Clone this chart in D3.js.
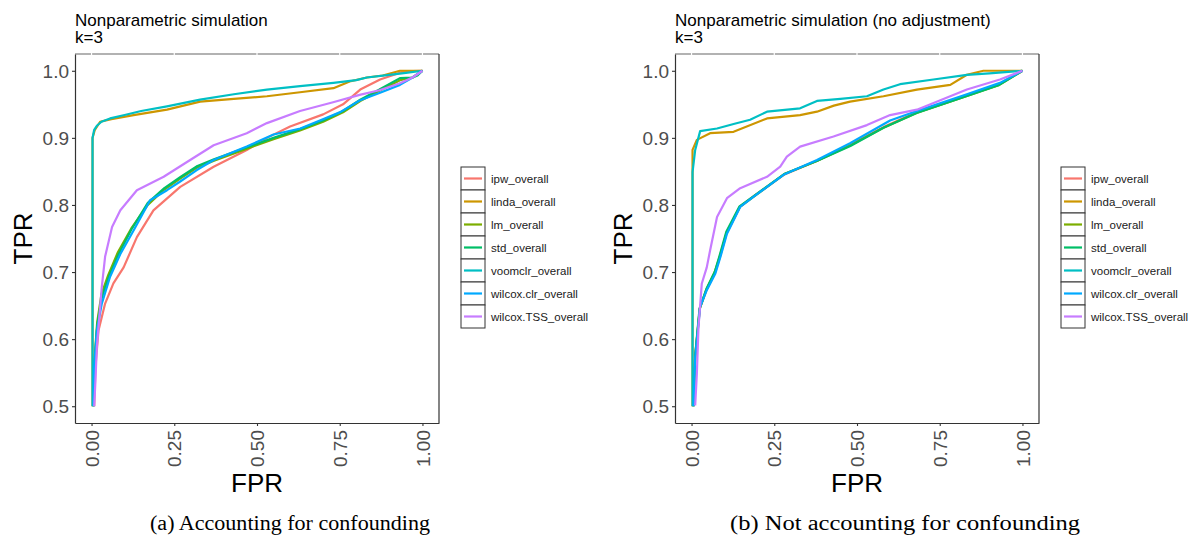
<!DOCTYPE html>
<html>
<head>
<meta charset="utf-8">
<script src="https://cdn.jsdelivr.net/npm/d3@7"></script>
<style>
  body { margin: 0; background: #fff; }
  svg { display: block; }
</style>
</head>
<body>
<div id="chart"></div>
<script>
// legend order / colours (ggplot hue palette)
const methods = ['ipw_overall', 'linda_overall', 'lm_overall', 'std_overall',
                 'voomclr_overall', 'wilcox.clr_overall', 'wilcox.TSS_overall'];
const colors = ['#F8766D', '#CD9600', '#7CAE00', '#00BE67', '#00BFC4', '#00A9FF', '#C77CFF'];
const xTicks = [0, 0.25, 0.5, 0.75, 1];
const yTicks = [0.5, 0.6, 0.7, 0.8, 0.9, 1.0];

// panel (a): accounting for confounding  -- [FPR, TPR]
const ipwA = [[0.008,0.5],[0.012,0.56],[0.021,0.613],[0.041,0.653],[0.066,0.683],[0.097,0.707],[0.137,0.752],[0.187,0.792],[0.268,0.827],[0.369,0.857],[0.469,0.882],[0.53,0.9],[0.6,0.917],[0.7,0.935],[0.76,0.95],[0.812,0.972],[0.872,0.987],[0.943,0.999],[1,1]];
const lindaA = [[0.003,0.5],[0.003,0.9],[0.01,0.912],[0.026,0.924],[0.06,0.928],[0.127,0.934],[0.228,0.942],[0.328,0.954],[0.43,0.958],[0.53,0.962],[0.63,0.968],[0.731,0.974],[0.78,0.984],[0.832,0.99],[0.88,0.993],[0.932,1.0],[1,1]];
const lmA = [[0.006,0.5],[0.009,0.57],[0.017,0.625],[0.03,0.667],[0.05,0.695],[0.08,0.73],[0.12,0.765],[0.17,0.8],[0.22,0.823],[0.27,0.84],[0.32,0.856],[0.37,0.866],[0.47,0.884],[0.55,0.898],[0.63,0.911],[0.7,0.924],[0.76,0.938],[0.812,0.955],[0.87,0.97],[0.932,0.986],[0.97,0.99],[1,1]];
const stdA = [[0.006,0.5],[0.009,0.56],[0.017,0.62],[0.03,0.66],[0.05,0.69],[0.08,0.725],[0.12,0.763],[0.17,0.803],[0.22,0.825],[0.27,0.842],[0.32,0.858],[0.37,0.868],[0.47,0.886],[0.55,0.9],[0.63,0.913],[0.7,0.926],[0.76,0.94],[0.812,0.957],[0.87,0.972],[0.932,0.989],[0.97,0.99],[0.985,0.993],[1,1]];
const voomclrA = [[0.003,0.5],[0.003,0.9],[0.008,0.912],[0.016,0.918],[0.03,0.924],[0.056,0.929],[0.1,0.934],[0.15,0.94],[0.228,0.947],[0.328,0.957],[0.43,0.965],[0.53,0.972],[0.63,0.977],[0.731,0.982],[0.8,0.986],[0.832,0.99],[0.9,0.994],[0.95,0.997],[1,1]];
const wilcoxClrA = [[0.006,0.5],[0.008,0.56],[0.016,0.613],[0.031,0.653],[0.056,0.693],[0.087,0.727],[0.127,0.762],[0.177,0.807],[0.228,0.822],[0.268,0.835],[0.318,0.852],[0.369,0.867],[0.469,0.887],[0.55,0.905],[0.631,0.914],[0.69,0.926],[0.75,0.938],[0.812,0.956],[0.87,0.967],[0.932,0.979],[0.97,0.99],[1,1]];
const wilcoxTssA = [[0.008,0.5],[0.011,0.53],[0.016,0.588],[0.031,0.678],[0.041,0.723],[0.062,0.767],[0.087,0.792],[0.137,0.822],[0.218,0.842],[0.298,0.867],[0.369,0.889],[0.469,0.907],[0.53,0.922],[0.63,0.94],[0.73,0.953],[0.81,0.964],[0.87,0.971],[0.93,0.981],[0.97,0.99],[1,1]];

// panel (b): not accounting for confounding
const ipwB = [[0.006,0.5],[0.011,0.574],[0.025,0.646],[0.046,0.674],[0.071,0.699],[0.086,0.723],[0.106,0.758],[0.146,0.797],[0.188,0.813],[0.279,0.845],[0.38,0.866],[0.48,0.89],[0.58,0.916],[0.68,0.938],[0.83,0.963],[0.93,0.98],[1,1]];
const lindaB = [[0.003,0.5],[0.003,0.882],[0.016,0.897],[0.056,0.907],[0.127,0.909],[0.228,0.929],[0.328,0.934],[0.379,0.939],[0.43,0.948],[0.479,0.954],[0.58,0.962],[0.681,0.972],[0.782,0.979],[0.832,0.994],[0.882,1.0],[1,1]];
const lmB = [[0.006,0.5],[0.011,0.575],[0.025,0.646],[0.045,0.674],[0.07,0.7],[0.086,0.724],[0.106,0.759],[0.146,0.797],[0.19,0.813],[0.28,0.846],[0.38,0.866],[0.48,0.889],[0.58,0.915],[0.68,0.937],[0.83,0.962],[0.93,0.979],[1,1]];
const stdB = [[0.006,0.5],[0.011,0.575],[0.024,0.645],[0.045,0.675],[0.07,0.7],[0.085,0.725],[0.105,0.76],[0.145,0.798],[0.19,0.814],[0.28,0.846],[0.38,0.866],[0.48,0.888],[0.58,0.915],[0.68,0.937],[0.83,0.962],[0.93,0.979],[1,1]];
const voomclrB = [[0.003,0.5],[0.003,0.849],[0.011,0.882],[0.026,0.91],[0.077,0.914],[0.13,0.921],[0.177,0.927],[0.228,0.939],[0.328,0.944],[0.379,0.955],[0.45,0.958],[0.53,0.962],[0.58,0.972],[0.63,0.98],[0.731,0.987],[0.832,0.994],[0.9,0.996],[1,1]];
const wilcoxClrB = [[0.006,0.5],[0.011,0.573],[0.026,0.648],[0.046,0.673],[0.072,0.698],[0.087,0.722],[0.107,0.757],[0.147,0.797],[0.187,0.812],[0.278,0.845],[0.379,0.867],[0.479,0.892],[0.6,0.926],[0.681,0.94],[0.832,0.965],[0.932,0.982],[1,1]];
const wilcoxTssB = [[0.011,0.501],[0.016,0.548],[0.021,0.618],[0.031,0.683],[0.046,0.707],[0.056,0.732],[0.077,0.782],[0.107,0.81],[0.147,0.825],[0.228,0.842],[0.268,0.857],[0.288,0.872],[0.328,0.887],[0.429,0.902],[0.53,0.919],[0.6,0.934],[0.681,0.942],[0.832,0.972],[0.932,0.987],[1,1]];

const panels = [
  {ox: 0, title: 'Nonparametric simulation', caption: '(a) Accounting for confounding', capX: 290, capW: 280,
   series: [ipwA, lindaA, lmA, stdA, voomclrA, wilcoxClrA, wilcoxTssA]},
  {ox: 600, title: 'Nonparametric simulation (no adjustment)', caption: '(b) Not accounting for confounding', capX: 905, capW: 350,
   series: [ipwB, lindaB, lmB, stdB, voomclrB, wilcoxClrB, wilcoxTssB]}
];

const W = 1193, H = 541;
const svg = d3.select('#chart').append('svg').attr('width', W).attr('height', H);
const sans = 'Liberation Sans, Arial, sans-serif';

// plot area inside each panel
const plot = {left: 75, right: 439, top: 54, bottom: 423};

panels.forEach(p => {
  let g = svg.append('g').attr('transform', 'translate(' + p.ox + ',0)');

  let xScale = d3.scaleLinear().domain([-0.05, 1.05]).range([plot.left, plot.right]);
  let yScale = d3.scaleLinear().domain([0.475, 1.025]).range([plot.bottom, plot.top]);

  // title
  let t = g.append('text').attr('x', plot.left).attr('y', 26)
    .style('font-family', sans).style('font-size', '17px').attr('fill', '#000');
  t.append('tspan').attr('x', plot.left).text(p.title);
  t.append('tspan').attr('x', plot.left).attr('dy', 17).text('k=3');

  // border top/right
  g.append('line').attr('x1', plot.left).attr('x2', plot.right).attr('y1', plot.top).attr('y2', plot.top)
    .attr('stroke', '#666').attr('stroke-width', 1.2);
  g.append('line').attr('x1', plot.right).attr('x2', plot.right).attr('y1', plot.top).attr('y2', plot.bottom)
    .attr('stroke', '#333').attr('stroke-width', 1.2);
  // white top ticks
  g.append('g').selectAll('line').data(xTicks).join('line')
    .attr('x1', d => xScale(d)).attr('x2', d => xScale(d))
    .attr('y1', plot.top - 3).attr('y2', plot.top + 1)
    .attr('stroke', '#fff').attr('stroke-width', 1.2);

  // curves
  let line = d3.line().x(d => xScale(d[0])).y(d => yScale(d[1]));
  g.append('g').selectAll('path').data(p.series).join('path')
    .attr('d', line)
    .attr('fill', 'none')
    .attr('stroke', (d, i) => colors[i])
    .attr('stroke-width', 2.2)
    .attr('stroke-linejoin', 'round');

  // axes
  let yAxis = g.append('g').attr('transform', 'translate(' + plot.left + ',0)')
    .call(d3.axisLeft(yScale).tickValues(yTicks).tickFormat(d3.format('.1f')).tickSize(3).tickSizeOuter(0));
  yAxis.select('.domain').attr('stroke', '#333').attr('stroke-width', 1.2);
  yAxis.selectAll('.tick line').attr('stroke', '#333').attr('stroke-width', 1.1);
  yAxis.selectAll('.tick text').attr('fill', '#4D4D4D').style('font-family', sans).style('font-size', '19px')
    .attr('x', -6).attr('dy', '0.35em');

  let xAxis = g.append('g').attr('transform', 'translate(0,' + plot.bottom + ')')
    .call(d3.axisBottom(xScale).tickValues(xTicks).tickFormat(d3.format('.2f')).tickSize(3).tickSizeOuter(0));
  xAxis.select('.domain').attr('stroke', '#333').attr('stroke-width', 1.2);
  xAxis.selectAll('.tick line').attr('stroke', '#333').attr('stroke-width', 1.1);
  xAxis.selectAll('.tick text').attr('fill', '#4D4D4D').style('font-family', sans).style('font-size', '19px')
    .attr('transform', 'rotate(-90)').attr('x', -7).attr('y', 0).attr('dy', '0.35em')
    .style('text-anchor', 'end');

  // axis titles
  g.append('text').text('FPR').attr('x', (plot.left + plot.right) / 2).attr('y', 492)
    .style('font-family', sans).style('font-size', '26px').style('text-anchor', 'middle').attr('fill', '#000');
  g.append('text').text('TPR').attr('transform', 'translate(32,' + ((plot.top + plot.bottom) / 2) + ') rotate(-90)')
    .style('font-family', sans).style('font-size', '26px').style('text-anchor', 'middle').attr('fill', '#000');

  // legend
  let leg = g.append('g').attr('transform', 'translate(461,167)');
  let keys = leg.selectAll('g').data(methods).join('g')
    .attr('transform', (d, i) => 'translate(0,' + (i * 23) + ')');
  keys.append('rect').attr('width', 24).attr('height', 23)
    .attr('fill', '#fff').attr('stroke', '#333').attr('stroke-width', 1);
  keys.append('line').attr('x1', 3).attr('x2', 21).attr('y1', 11.5).attr('y2', 11.5)
    .attr('stroke', (d, i) => colors[i]).attr('stroke-width', 2.2);
  keys.append('text').text(d => d).attr('x', 30).attr('y', 11.5).attr('dy', '0.35em')
    .style('font-family', sans).style('font-size', '11.5px').attr('fill', '#1A1A1A');
});

// captions
panels.forEach(p => {
  svg.append('text').text(p.caption)
    .attr('x', p.capX).attr('y', 530)
    .attr('textLength', p.capW).attr('lengthAdjust', 'spacingAndGlyphs')
    .style('font-family', 'Liberation Serif, DejaVu Serif, serif').style('font-size', '20px')
    .style('text-anchor', 'middle').attr('fill', '#000');
});
</script>
</body>
</html>
